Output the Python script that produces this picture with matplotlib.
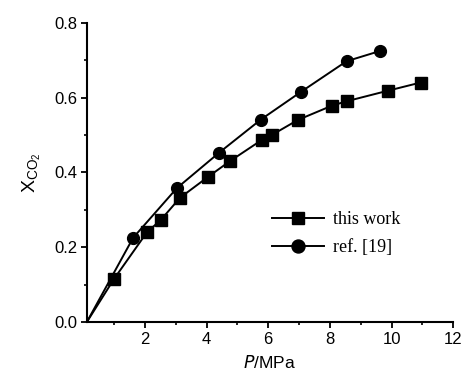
import matplotlib
matplotlib.use("Agg")
import matplotlib.pyplot as plt
from matplotlib.ticker import MultipleLocator

# this work
p_this = [0.12, 1.0, 2.07, 2.52, 3.14, 4.05, 4.76, 5.80, 6.12, 6.96, 8.06, 8.54, 9.87, 10.94]
x_this = [0.0, 0.115, 0.240, 0.273, 0.332, 0.388, 0.430, 0.487, 0.500, 0.540, 0.578, 0.590, 0.618, 0.640]
# ref. [19]
p_ref = [0.12, 1.62, 3.04, 4.40, 5.76, 7.06, 8.54, 9.61]
x_ref = [0.0, 0.225, 0.358, 0.452, 0.541, 0.615, 0.697, 0.724]

x_ticks = [2, 4, 6, 8, 10, 12]
y_ticks = [0.0, 0.2, 0.4, 0.6, 0.8]

plt.rcParams['font.family'] = ['Liberation Sans', 'DejaVu Sans']
fig = plt.figure(figsize=(4.62, 3.76), dpi=100)
ax = fig.add_axes([0.188, 0.1436, 0.793, 0.796])

ax.plot(p_this, x_this, color='black', lw=1.4, marker='s', ms=8,
        markevery=list(range(1, len(p_this))), label='this work')
ax.plot(p_ref, x_ref, color='black', lw=1.4, marker='o', ms=8.5,
        markevery=list(range(1, len(p_ref))), label='ref. [19]')

ax.set_xlim(0.12, 12)
ax.set_ylim(0, 0.8)
ax.set_xticks(x_ticks)
ax.set_yticks(y_ticks)
ax.set_yticklabels([f"{v:.1f}" for v in y_ticks])
ax.xaxis.set_minor_locator(MultipleLocator(1))
ax.yaxis.set_minor_locator(MultipleLocator(0.1))
for s in ['top', 'right']:
    ax.spines[s].set_visible(False)
for s in ['left', 'bottom']:
    ax.spines[s].set_linewidth(1.5)
ax.tick_params(which='major', direction='out', length=4, width=1.3, labelsize=12, pad=3)
ax.tick_params(which='minor', direction='out', length=2.5, width=1.2)

ax.set_xlabel(r'$\it{P}$/MPa', fontsize=12.5, labelpad=5)
ax.set_ylabel(r'$\mathregular{X_{CO_2}}$', fontsize=14, labelpad=8)

leg = ax.legend(loc='upper left', bbox_to_anchor=(0.46, 0.425), frameon=False,
                prop={'family': 'Liberation Serif', 'size': 13},
                handlelength=2.9, handletextpad=0.5, labelspacing=0.6,
                markerscale=1.1)

fig.savefig('out.png', dpi=100)
